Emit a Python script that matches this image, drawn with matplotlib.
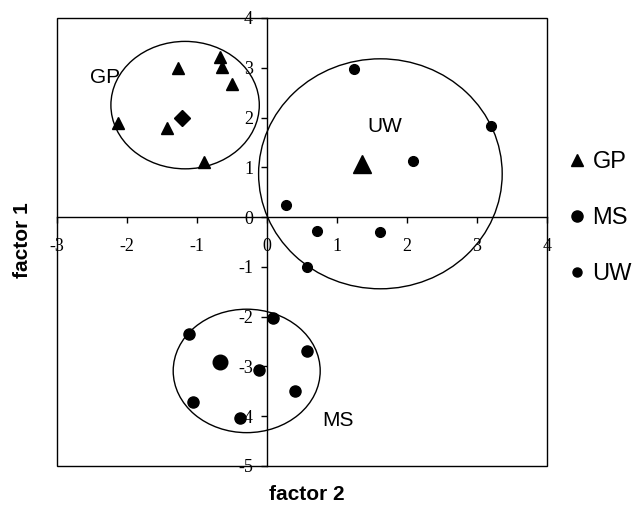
import matplotlib
matplotlib.use("Agg")
import matplotlib.pyplot as plt
from matplotlib.patches import Ellipse, Rectangle
from matplotlib.lines import Line2D

# ---- data ----
gp_x = [-2.13, -1.27, -0.67, -0.65, -0.50, -1.43, -0.90]
gp_y = [1.90, 3.00, 3.22, 3.02, 2.68, 1.80, 1.10]
gp_centroid = [-1.22, 2.00]

ms_x = [0.08, -1.11, 0.57, -0.12, 0.40, -1.06, -0.38]
ms_y = [-2.03, -2.34, -2.69, -3.08, -3.49, -3.71, -4.03]
ms_centroid = [-0.67, -2.92]

uw_x = [0.27, 0.72, 1.61, 0.57, 2.09, 3.20, 1.24]
uw_y = [0.25, -0.27, -0.30, -1.01, 1.12, 1.83, 2.98]
uw_centroid = [1.35, 1.07]

# ellipses: center x, center y, width, height
gp_ellipse = [-1.17, 2.25, 2.12, 2.56]
ms_ellipse = [-0.29, -3.09, 2.10, 2.48]
uw_ellipse = [1.62, 0.87, 3.48, 4.62]

group_labels = ["GP", "MS", "UW"]
label_pos = {"GP": (-2.32, 2.80), "UW": (1.69, 1.82), "MS": (1.01, -4.09)}

x_ticks = [-3, -2, -1, 0, 1, 2, 3, 4]
y_ticks = [-5, -4, -3, -2, -1, 0, 1, 2, 3, 4]

# ---- figure ----
fig = plt.figure(figsize=(6.36, 5.12), dpi=100)
ax = fig.add_axes([57/636, 1-466/512, 490/636, 448/512])
ax.set_xlim(-3, 4)
ax.set_ylim(-5, 4)

for e in (gp_ellipse, ms_ellipse, uw_ellipse):
    ax.add_patch(Ellipse((e[0], e[1]), e[2], e[3], fill=False,
                         edgecolor='black', lw=1.0, zorder=2))

ax.plot(gp_x, gp_y, linestyle='none', marker='^', ms=9, color='black', zorder=3)
ax.plot([gp_centroid[0]], [gp_centroid[1]], linestyle='none', marker='D', ms=8.5,
        color='black', zorder=3)
ax.plot(ms_x, ms_y, linestyle='none', marker='o', ms=8, color='black', zorder=3)
ax.plot([ms_centroid[0]], [ms_centroid[1]], linestyle='none', marker='o', ms=10.5,
        color='black', zorder=3)
ax.plot(uw_x, uw_y, linestyle='none', marker='o', ms=7, color='black', zorder=3)
ax.plot([uw_centroid[0]], [uw_centroid[1]], linestyle='none', marker='^', ms=13,
        color='black', zorder=3)

for name in group_labels:
    px, py = label_pos[name]
    ax.text(px, py, name, fontsize=15, family='Liberation Sans',
            ha='center', va='center', zorder=4)

# axes through zero
ax.spines['left'].set_position('zero')
ax.spines['bottom'].set_position('zero')
ax.spines['top'].set_visible(False)
ax.spines['right'].set_visible(False)
for s in ax.spines.values():
    s.set_linewidth(1.0)
ax.add_patch(Rectangle((0, 0), 1, 1, transform=ax.transAxes, fill=False,
                       edgecolor='black', lw=1.0, clip_on=False, zorder=1))

ax.set_xticks(x_ticks)
ax.set_yticks(y_ticks)
ax.set_xticklabels([str(t) for t in x_ticks])
ax.set_yticklabels([str(t) for t in y_ticks])
ax.tick_params(direction='out', length=4, width=1.0,
               labelsize=13, labelfontfamily='Liberation Serif')
ax.tick_params(axis='x', pad=11)
ax.tick_params(axis='y', pad=6)

fig.text(22/636, 1-240/512, "factor 1", rotation=90, fontsize=15, fontweight='bold',
         family='Liberation Sans', ha='center', va='center')
fig.text(307/636, 1-495/512, "factor 2", fontsize=15, fontweight='bold',
         family='Liberation Sans', ha='center', va='center')

handles = [
    Line2D([], [], linestyle='none', marker='^', ms=8.5, color='black'),
    Line2D([], [], linestyle='none', marker='o', ms=8, color='black'),
    Line2D([], [], linestyle='none', marker='o', ms=6.5, color='black'),
]
fig.legend(handles, group_labels, loc='center left',
           bbox_to_anchor=(570/636, 1-218/512), frameon=False,
           prop={'family': 'Liberation Sans', 'size': 17},
           handlelength=0.6, handletextpad=0.35, labelspacing=1.45,
           borderpad=0, borderaxespad=0)

fig.savefig("out.png", dpi=100)
